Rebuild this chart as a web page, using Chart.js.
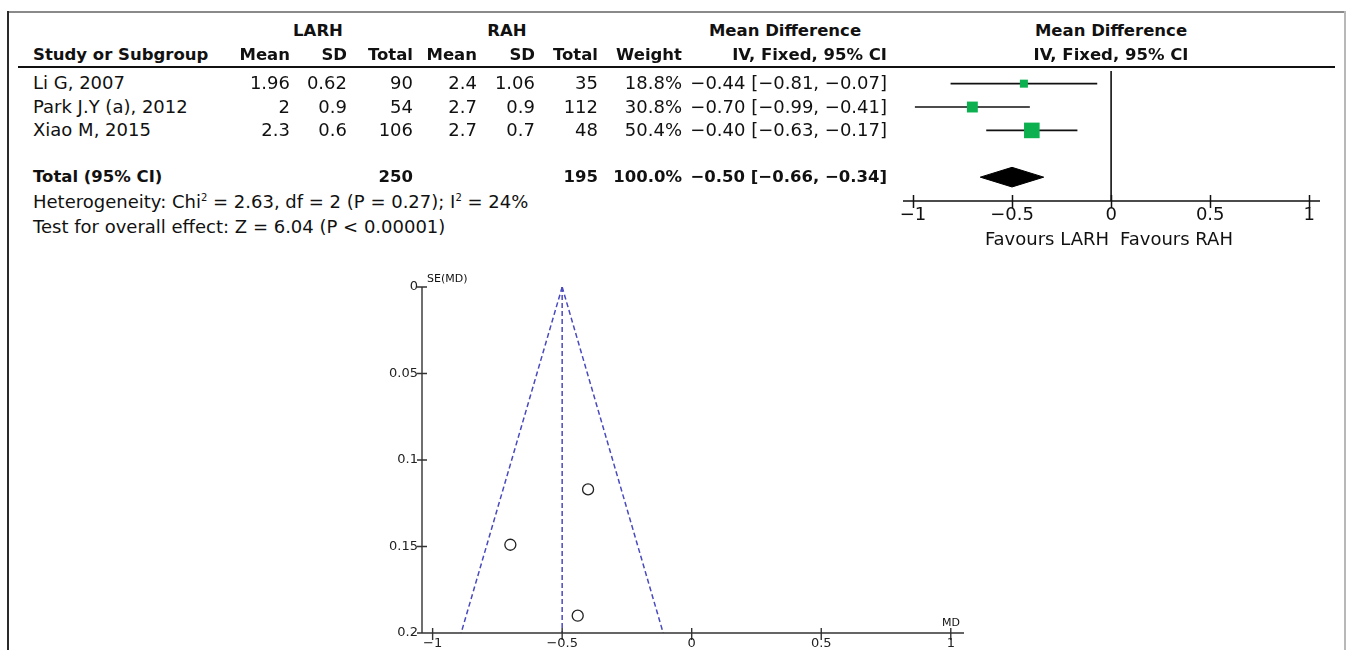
<!DOCTYPE html>
<html><head><meta charset="utf-8">
<script src="https://cdn.jsdelivr.net/npm/chart.js@4.4.1/dist/chart.umd.min.js"></script>
<style>
html,body{margin:0;padding:0;background:#fff;}
#page{position:relative;width:1346px;height:650px;overflow:hidden;font-family:"DejaVu Sans",sans-serif;color:#111;background:#fff;}
.t{position:absolute;white-space:nowrap;line-height:20px;height:20px;font-size:18px;}
.b{font-weight:bold;font-size:16.5px;}
.s{font-size:11px;line-height:14px;height:14px;}
sup{font-size:10px;vertical-align:7px;line-height:0;}
canvas{position:absolute;}
.ln{position:absolute;}
</style></head><body><div id="page">
<div class="ln" style="left:8px;top:11px;width:1338px;height:2px;background:#8a8a8a"></div>
<div class="ln" style="left:7px;top:11px;width:2px;height:639px;background:#2a2a2a"></div>
<div class="ln" style="left:1344px;top:11px;width:2px;height:639px;background:#b8b8b8"></div>
<div class="ln" style="left:18px;top:66px;width:1317px;height:2px;background:#111"></div>
<canvas id="forest" width="486" height="200" style="left:860px;top:60px;width:486px;height:200px"></canvas>
<canvas id="funnel" width="630" height="385" style="left:360px;top:265px;width:630px;height:385px"></canvas>
</div>
<script>
// ---- data ----
const studies   = ["Li G, 2007", "Park J.Y (a), 2012", "Xiao M, 2015"];
const larhMean  = [1.96, 2, 2.3];
const larhSD    = [0.62, 0.9, 0.6];
const larhTotal = [90, 54, 106];
const rahMean   = [2.4, 2.7, 2.7];
const rahSD     = [1.06, 0.9, 0.7];
const rahTotal  = [35, 112, 48];
const weights   = [18.8, 30.8, 50.4];
const md        = [-0.44, -0.70, -0.40];
const ciLow     = [-0.81, -0.99, -0.63];
const ciHigh    = [-0.07, -0.41, -0.17];
const pooledMD  = -0.50;
const pooledCI  = [-0.66, -0.34];
const totalLarh = 250;
const totalRah  = 195;
const totalWeight = 100.0;
const forestTicks = [-1, -0.5, 0, 0.5, 1];
const forestTickLabels = ["\u22121", "\u22120.5", "0", "0.5", "1"];
// funnel plot
const funnelSE  = [0.19, 0.149, 0.117];
const funnelMD  = [-0.44, -0.70, -0.40];
const funnelLimitsAtMaxSE = [-0.89, -0.11];
const funnelMaxSE = 0.2;
const funnelXTicks = [-1, -0.5, 0, 0.5, 1];
const funnelXTickLabels = ["\u22121", "\u22120.5", "0", "0.5", "1"];
const funnelYTicks = [0, 0.05, 0.1, 0.15, 0.2];
const funnelYTickLabels = ["0", "0.05", "0.1", "0.15", "0.2"];

// ---- text table ----
const page = document.getElementById('page');
function place(html, x, y, align, cls) {
  const d = document.createElement('div');
  d.className = 't' + (cls ? ' ' + cls : '');
  d.innerHTML = html;
  d.style.top = (y - 10) + 'px';
  if (align === 'r') d.style.right = (1346 - x) + 'px';
  else if (align === 'c') { d.style.left = x + 'px'; d.style.transform = 'translateX(-50%)'; }
  else d.style.left = x + 'px';
  page.appendChild(d);
  return d;
}
const m = v => String(v).replace('-', '\u2212');
const f2 = v => m(v.toFixed(2));
const colR = {lm:290, lsd:347, lt:413, rm:477, rsd:535, rt:598, w:682, ci:887};
place('LARH', 318, 31, 'c', 'b');
place('RAH', 507, 31, 'c', 'b');
place('Mean Difference', 785, 31, 'c', 'b');
place('Mean Difference', 1111, 31, 'c', 'b');
place('Study or Subgroup', 33, 55, 'l', 'b');
place('Mean', colR.lm, 55, 'r', 'b');
place('SD', colR.lsd, 55, 'r', 'b');
place('Total', colR.lt, 55, 'r', 'b');
place('Mean', colR.rm, 55, 'r', 'b');
place('SD', colR.rsd, 55, 'r', 'b');
place('Total', colR.rt, 55, 'r', 'b');
place('Weight', colR.w, 55, 'r', 'b');
place('IV, Fixed, 95% CI', colR.ci, 55, 'r', 'b');
place('IV, Fixed, 95% CI', 1111, 55, 'c', 'b');
const rowTextY = [82.5, 106.5, 130];
studies.forEach((s, i) => {
  const y = rowTextY[i];
  place(s, 33, y, 'l');
  place(String(larhMean[i]), colR.lm, y, 'r');
  place(String(larhSD[i]), colR.lsd, y, 'r');
  place(String(larhTotal[i]), colR.lt, y, 'r');
  place(String(rahMean[i]), colR.rm, y, 'r');
  place(String(rahSD[i]), colR.rsd, y, 'r');
  place(String(rahTotal[i]), colR.rt, y, 'r');
  place(weights[i].toFixed(1) + '%', colR.w, y, 'r');
  place(f2(md[i]) + ' [' + f2(ciLow[i]) + ', ' + f2(ciHigh[i]) + ']', colR.ci, y, 'r');
});
place('Total (95% CI)', 33, 177, 'l', 'b');
place(String(totalLarh), colR.lt, 177, 'r', 'b');
place(String(totalRah), colR.rt, 177, 'r', 'b');
place(totalWeight.toFixed(1) + '%', colR.w, 177, 'r', 'b');
place(f2(pooledMD) + ' [' + f2(pooledCI[0]) + ', ' + f2(pooledCI[1]) + ']', colR.ci, 177, 'r', 'b');
place('Heterogeneity: Chi<sup>2</sup> = 2.63, df = 2 (P = 0.27); I<sup>2</sup> = 24%', 33, 201.5, 'l');
place('Test for overall effect: Z = 6.04 (P &lt; 0.00001)', 33, 226.5, 'l');
place('Favours LARH', 1109, 239, 'r');
place('Favours RAH', 1120, 239, 'l');
place('SE(MD)', 427, 279, 'l', 's').style.top = (279 - 7) + 'px';
const mdLab = place('MD', 951, 623, 'c', 's'); mdLab.style.top = (623 - 7) + 'px';

// ---- forest plot ----
const ROW_TOTAL = 4;
const DIAMOND_HALF = 0.42;
const FONT = '"DejaVu Sans", sans-serif';
const forestAxes = {
  id: 'forestAxes',
  afterDatasetsDraw(chart) {
    const {ctx, chartArea: a, scales: {x}} = chart;
    ctx.save();
    ctx.strokeStyle = '#111'; ctx.lineWidth = 1.5;
    ctx.beginPath();
    ctx.moveTo(a.left, a.bottom); ctx.lineTo(a.right, a.bottom);
    forestTicks.forEach(v => { const px = Math.round(x.getPixelForValue(v)) + 0.5; ctx.moveTo(px, a.bottom - 6); ctx.lineTo(px, a.bottom + 7); });
    ctx.stroke();
    ctx.fillStyle = '#111'; ctx.font = '18px ' + FONT; ctx.textAlign = 'center'; ctx.textBaseline = 'middle';
    forestTicks.forEach((v, i) => ctx.fillText(forestTickLabels[i], x.getPixelForValue(v), a.bottom + 14.5));
    ctx.restore();
  }
};
const forestDatasets = [];
forestDatasets.push({ data: studies.map((s, i) => ({x: md[i], y: i})), showLine: false,
  pointStyle: 'rect', pointRadius: weights.map(w => (3.5 + 0.24 * w) / Math.SQRT2),
  backgroundColor: '#0db04f', borderWidth: 0, order: 0 });
studies.forEach((s, i) => forestDatasets.push({ data: [{x: ciLow[i], y: i}, {x: ciHigh[i], y: i}],
  showLine: true, pointRadius: 0, borderColor: '#111', borderWidth: 1.6, order: 1 }));
forestDatasets.push({ data: [{x: pooledCI[0], y: ROW_TOTAL}, {x: pooledMD, y: ROW_TOTAL - DIAMOND_HALF},
  {x: pooledCI[1], y: ROW_TOTAL}, {x: pooledMD, y: ROW_TOTAL + DIAMOND_HALF}, {x: pooledCI[0], y: ROW_TOTAL}],
  showLine: true, pointRadius: 0, borderColor: '#000', borderWidth: 1, backgroundColor: '#000', fill: 'shape', order: 1, tension: 0 });
forestDatasets.push({ data: [{x: 0, y: -0.54}, {x: 0, y: 5.02}], showLine: true, pointRadius: 0,
  borderColor: '#111', borderWidth: 1.6, order: 2 });

new Chart(document.getElementById('forest'), {
  type: 'scatter',
  data: { datasets: forestDatasets },
  options: {
    responsive: false, animation: false, events: [],
    layout: { padding: { left: 43, right: 26, top: 7, bottom: 59 } },
    plugins: { legend: { display: false }, tooltip: { enabled: false } },
    scales: {
      x: { type: 'linear', display: false, min: -1.05, max: 1.054 },
      y: { type: 'linear', display: false, min: -0.54, max: 5.02, reverse: true }
    }
  },
  plugins: [forestAxes]
});

// ---- funnel plot ----
const funnelAxes = {
  id: 'funnelAxes',
  afterDatasetsDraw(chart) {
    const {ctx, chartArea: a, scales: {x, y}} = chart;
    ctx.save();
    ctx.strokeStyle = '#333'; ctx.lineWidth = 1.4;
    ctx.beginPath();
    ctx.moveTo(a.left, a.top); ctx.lineTo(a.left, a.bottom); ctx.lineTo(a.right, a.bottom);
    funnelYTicks.forEach(v => { const py = y.getPixelForValue(v); ctx.moveTo(a.left - 5, py); ctx.lineTo(a.left + 5, py); });
    funnelXTicks.forEach(v => { const px = x.getPixelForValue(v); ctx.moveTo(px, a.bottom - 5); ctx.lineTo(px, a.bottom + 7); });
    ctx.stroke();
    ctx.fillStyle = '#222'; ctx.font = '13px ' + FONT; ctx.textBaseline = 'middle';
    ctx.textAlign = 'right';
    funnelYTicks.forEach((v, i) => ctx.fillText(funnelYTickLabels[i], a.left - 4, y.getPixelForValue(v)));
    ctx.textAlign = 'center';
    funnelXTicks.forEach((v, i) => ctx.fillText(funnelXTickLabels[i], x.getPixelForValue(v), a.bottom + 10.5));
    ctx.restore();
  }
};
const dashStyle = { showLine: true, pointRadius: 0, borderColor: '#4a4abf', borderWidth: 1.5, borderDash: [5, 3] };
new Chart(document.getElementById('funnel'), {
  type: 'scatter',
  data: { datasets: [
    { data: funnelMD.map((v, i) => ({x: v, y: funnelSE[i]})), showLine: false, pointStyle: 'circle',
      pointRadius: 5.5, borderColor: '#222', borderWidth: 1.3, backgroundColor: 'rgba(255,255,255,0)', order: 0 },
    Object.assign({ data: [{x: pooledMD, y: 0}, {x: funnelLimitsAtMaxSE[0], y: funnelMaxSE}], order: 1 }, dashStyle),
    Object.assign({ data: [{x: pooledMD, y: 0}, {x: funnelLimitsAtMaxSE[1], y: funnelMaxSE}], order: 1 }, dashStyle),
    Object.assign({ data: [{x: pooledMD, y: 0}, {x: pooledMD, y: funnelMaxSE}], order: 1 }, dashStyle)
  ] },
  options: {
    responsive: false, animation: false, events: [],
    layout: { padding: { left: 62, right: 26, top: 22, bottom: 17 } },
    plugins: { legend: { display: false }, tooltip: { enabled: false } },
    scales: {
      x: { type: 'linear', display: false, min: -1.041, max: 1.051 },
      y: { type: 'linear', display: false, min: 0, max: 0.2, reverse: true }
    }
  },
  plugins: [funnelAxes]
});
</script>
</body></html>
